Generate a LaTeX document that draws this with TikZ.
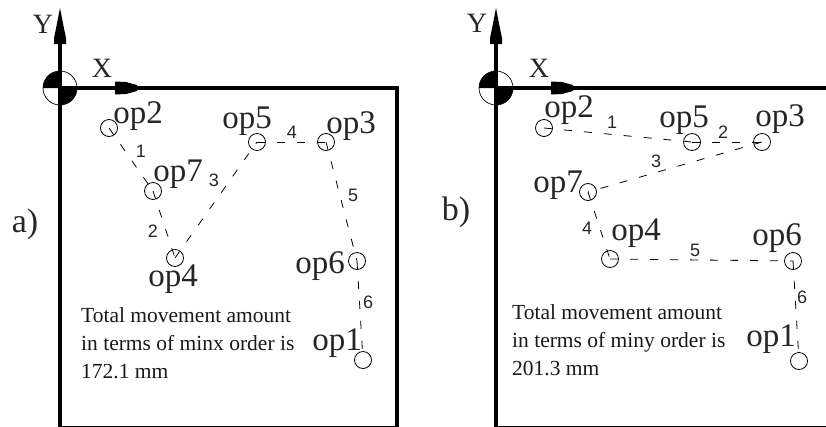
\documentclass[tikz,border=0pt]{standalone}
\usepackage{fontspec}
\setmainfont{Liberation Serif}
\newfontfamily\digitfont{Liberation Sans}
\usetikzlibrary{arrows.meta,positioning}
\tikzset{
  opmark/.style={draw, circle, line width=0.8pt, minimum size=17pt, inner sep=0pt},
  oplabel/.style={inner sep=0pt, anchor=base, font=\fontsize{33}{33}\selectfont, text=black!85},
  axlabel/.style={inner sep=0pt, font=\fontsize{28}{28}\selectfont, text=black!85},
  steplabel/.style={inner sep=0pt, font=\digitfont\fontsize{18}{18}\selectfont, text=black!85},
  notetext/.style={inner sep=0pt, align=left, anchor=base west, font=\fontsize{21.5}{28}\selectfont, text=black!90},
  panelid/.style={inner sep=0pt, anchor=base, font=\fontsize{34}{34}\selectfont, text=black!85},
  moveline/.style={dash pattern=on 8pt off 12pt, line width=0.8pt},
  frameline/.style={line width=3.8pt},
  axes/.pic={
    \fill (0,0) -- (-17,0) arc (180:270:17) -- cycle;
    \fill (0,0) -- (17,0) arc (0:90:17) -- cycle;
    \draw[line width=0.7pt] (0,0) circle (17);
    \draw[line width=3.6pt] (0,-50) -- (0,0);
    \fill (-6,-44) -- (6,-44) -- (6,-50) -- (3.5,-62) -- (0,-80) -- (-3.5,-62) -- (-6,-50) -- cycle;
    \fill (55,-6.5) -- (66,-6) -- (77,-3) -- (77,3) -- (66,6) -- (55,6.5) -- cycle;
  }
}
\begin{document}
\begin{tikzpicture}[x=1pt,y=-1pt]
\useasboundingbox (0,0) rectangle (826,426);
% panel a
\draw[frameline] (60,88) rectangle (397,427.5);
\pic at (60,88) {axes};
\node[axlabel] (ya) at (43,24) {Y};
\node[axlabel] (xa) at (102,68) {X};
\node[panelid] (ida) at (25,232) {a)};
\node[opmark] (a2) at (109,128) {};
\node[opmark] (a7) at (153,191) {};
\node[opmark] (a4) at (175,258) {};
\node[opmark] (a5) at (257,142) {};
\node[opmark] (a3) at (326,142) {};
\node[opmark] (a6) at (357,261) {};
\node[opmark] (a1) at (363,360) {};
\node[oplabel] at (138,123) {op2};
\node[oplabel] at (178,181) {op7};
\node[oplabel] at (173,286) {op4};
\node[oplabel] at (247,128) {op5};
\node[oplabel] at (351,133) {op3};
\node[oplabel] at (320,273) {op6};
\node[oplabel] at (337,350) {op1};
\draw[moveline] (a2.center) -- (a7.center);
\draw[moveline] (a7.center) -- (a4.center);
\draw[moveline] (a4.center) -- (a5.center);
\draw[moveline] (a5.center) -- (a3.center);
\draw[moveline] (a3.center) -- (a6.center);
\draw[moveline] (a6.center) -- (a1.center);
\node[steplabel] at (141,151) {1};
\node[steplabel] at (153,231) {2};
\node[steplabel] at (214,180) {3};
\node[steplabel] at (292,132) {4};
\node[steplabel] at (353,195) {5};
\node[steplabel] at (368,302) {6};
\node[notetext] (notea) at (81,378) {Total movement amount\\in terms of minx order is\\172.1 mm};
% panel b
\draw[frameline] (496,427.5) -- (496,88) -- (828,88);
\draw[frameline] (496,427.5) -- (828,427.5);
\pic at (496,88) {axes};
\node[axlabel] (yb) at (477,23) {Y};
\node[axlabel] (xb) at (539,68) {X};
\node[panelid] (idb) at (456,220) {b)};
\node[opmark] (b2) at (544,128) {};
\node[opmark] (b5) at (692,142) {};
\node[opmark] (b3) at (762,142) {};
\node[opmark] (b7) at (588,192) {};
\node[opmark] (b4) at (610,259) {};
\node[opmark] (b6) at (793,261) {};
\node[opmark] (b1) at (799,361) {};
\node[oplabel] at (569,117) {op2};
\node[oplabel] at (684,127) {op5};
\node[oplabel] at (780,126) {op3};
\node[oplabel] at (558,192) {op7};
\node[oplabel] at (636,240) {op4};
\node[oplabel] at (777,245) {op6};
\node[oplabel] at (771,346) {op1};
\draw[moveline] (b2.center) -- (b5.center);
\draw[moveline] (b5.center) -- (b3.center);
\draw[moveline] (b3.center) -- (b7.center);
\draw[moveline] (b7.center) -- (b4.center);
\draw[moveline] (b4.center) -- (b6.center);
\draw[moveline] (b6.center) -- (b1.center);
\node[steplabel] at (612,122) {1};
\node[steplabel] at (723,132) {2};
\node[steplabel] at (656,161) {3};
\node[steplabel] at (587,228) {4};
\node[steplabel] at (695,250) {5};
\node[steplabel] at (802,297) {6};
\node[notetext] (noteb) at (512,375) {Total movement amount\\in terms of miny order is\\201.3 mm};
\end{tikzpicture}
\end{document}
